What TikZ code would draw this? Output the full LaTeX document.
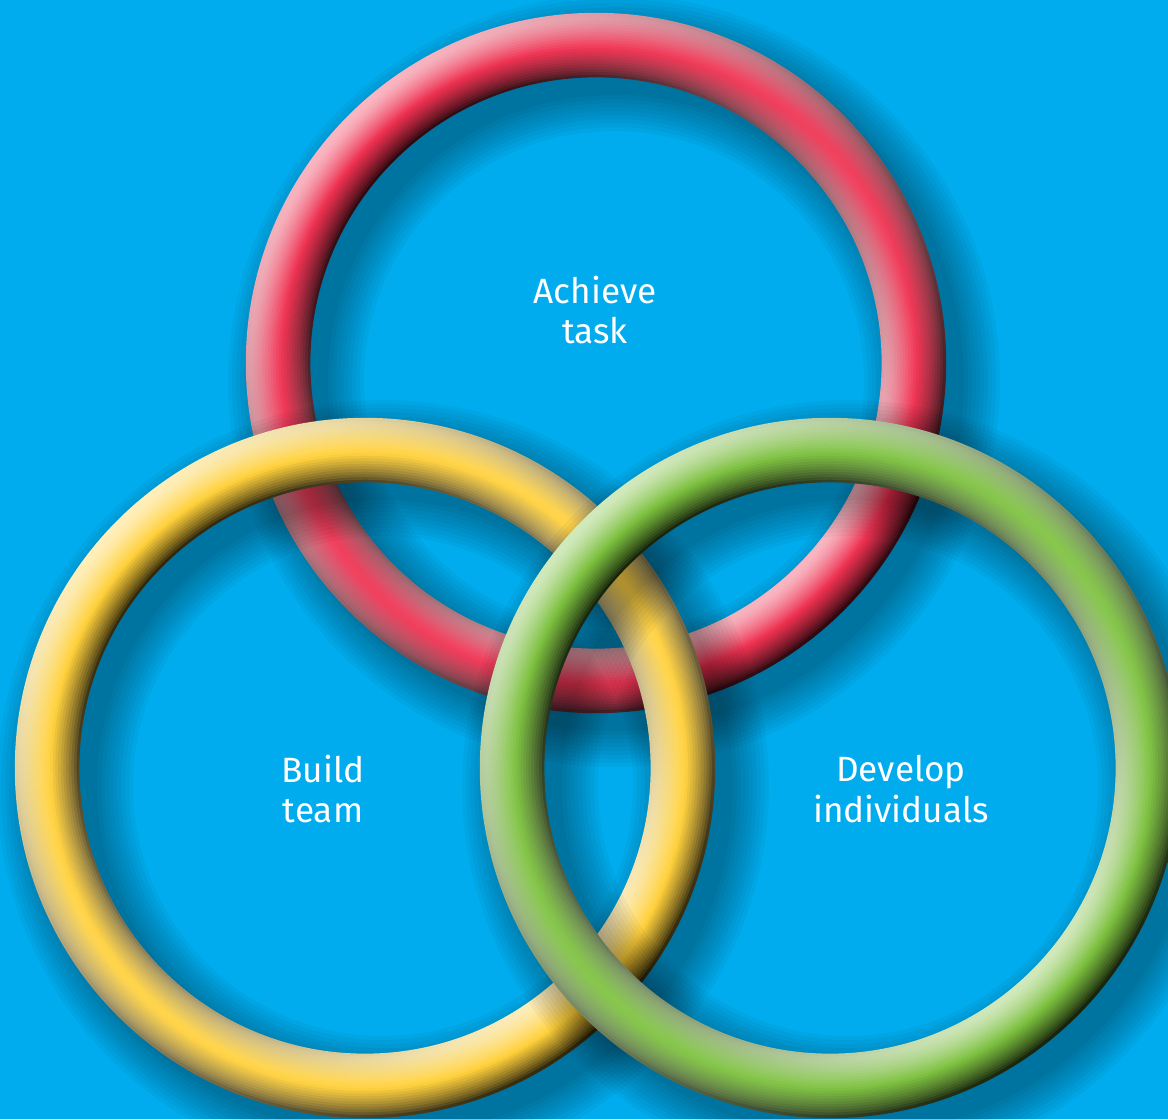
\documentclass[tikz,border=0pt]{standalone}
\usepackage{fontspec}
\setmainfont{Fira Sans}
\usepackage{tikz}
\definecolor{bgblue}{RGB}{0,172,237}
\definecolor{ringred}{RGB}{238,48,80}
\definecolor{ringyellow}{RGB}{255,208,58}
\definecolor{ringgreen}{RGB}{124,192,62}

\begin{document}
\begin{tikzpicture}[x=0.02cm, y=-0.02cm,
    ringtext/.style={text=white, align=center, font=\fontsize{20}{22.8}\selectfont}]
    % Background
    \useasboundingbox (0,0) rectangle (1168,1119);
    \fill[bgblue] (0,0) rectangle (1168,1119);
    \clip (0,0) rectangle (1168,1119);

    % Ring centres
    \coordinate (task) at (596,363);
    \coordinate (team) at (365,768);
    \coordinate (indiv) at (830,768);

    % Rings: red first, then yellow, green on top
    \foreach \ctr/\col in {task/ringred, team/ringyellow, indiv/ringgreen}{
        % soft drop shadow
        \foreach \w in {136,128,...,64}{
            \pgfmathsetmacro{\lw}{\w*0.569}
            \draw[black, opacity=0.035, line width=\lw pt]
                ([shift={(18,18)}]\ctr) circle[radius=6.36cm];
        }
        % tube, in thin bands lit from the top left
        \foreach \i in {0,...,23}{
            \pgfmathsetmacro{\t}{-1+(2*\i+1)/24}
            \pgfmathsetmacro{\z}{sqrt(1-\t*\t)}
            \pgfmathsetmacro{\ri}{(318-32+\i*64/24-0.3)*0.569}
            \pgfmathsetmacro{\ro}{(318-32+(\i+1)*64/24+0.3)*0.569}
            \pgfmathsetmacro{\bl}{0.95*\t+0.4*\z}
            \pgfmathsetmacro{\bd}{-0.95*\t+0.4*\z}
            \pgfmathsetmacro{\pdl}{min(100,100-92*(0.3-\bl)/1.25)}
            \pgfmathsetmacro{\pwl}{min(100,100-65*(\bl-0.3)/0.73)}
            \pgfmathsetmacro{\pdd}{min(100,100-92*(0.3-\bd)/1.25)}
            \pgfmathsetmacro{\pwd}{min(100,100-65*(\bd-0.3)/0.73)}
            \shade[even odd rule,
                top color=\col!\pdl!black!\pwl!white,
                bottom color=\col!\pdd!black!\pwd!white,
                shading angle=45]
                (\ctr) circle[radius=\ro pt] (\ctr) circle[radius=\ri pt];
        }
    }

    % Labels
    \node[ringtext] (achieve) at (595,310) {Achieve\\task};
    \node[ringtext] (build) at (323,789) {Build\\team};
    \node[ringtext] (develop) at (901,789) {Develop\\individuals};
\end{tikzpicture}
\end{document}
